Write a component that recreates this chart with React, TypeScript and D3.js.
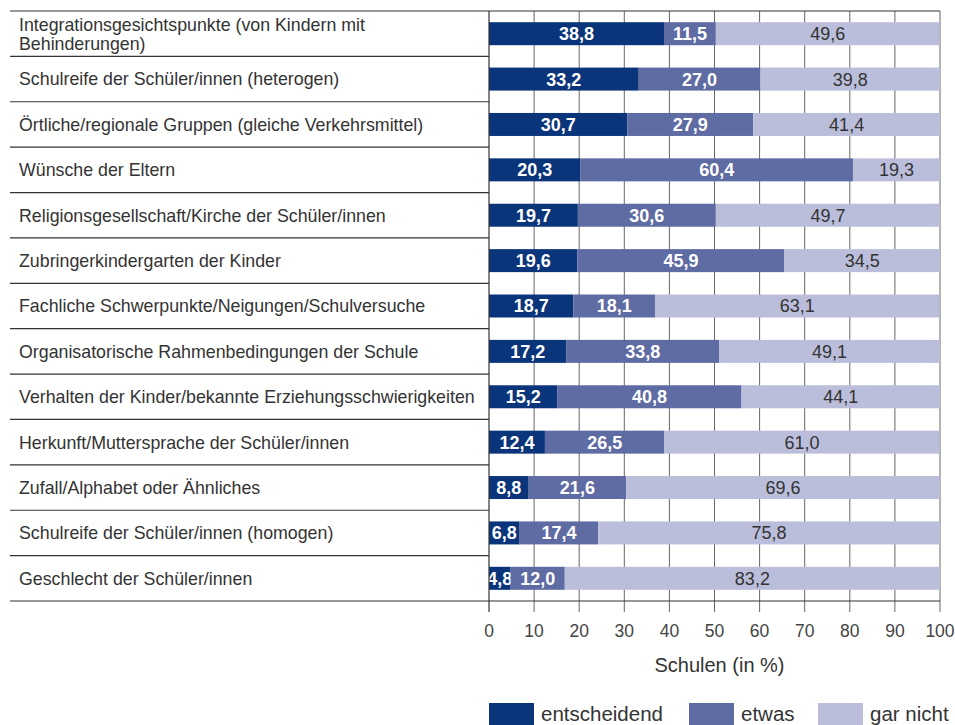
import { useRef, useEffect } from "react";
import * as d3 from "d3";

const categories = [
  ["Integrationsgesichtspunkte (von Kindern mit", "Behinderungen)"],
  ["Schulreife der Schüler/innen (heterogen)"],
  ["Örtliche/regionale Gruppen (gleiche Verkehrsmittel)"],
  ["Wünsche der Eltern"],
  ["Religionsgesellschaft/Kirche der Schüler/innen"],
  ["Zubringerkindergarten der Kinder"],
  ["Fachliche Schwerpunkte/Neigungen/Schulversuche"],
  ["Organisatorische Rahmenbedingungen der Schule"],
  ["Verhalten der Kinder/bekannte Erziehungsschwierigkeiten"],
  ["Herkunft/Muttersprache der Schüler/innen"],
  ["Zufall/Alphabet oder Ähnliches"],
  ["Schulreife der Schüler/innen (homogen)"],
  ["Geschlecht der Schüler/innen"],
];

const entscheidend = [38.8, 33.2, 30.7, 20.3, 19.7, 19.6, 18.7, 17.2, 15.2, 12.4, 8.8, 6.8, 4.8];
const etwas = [11.5, 27.0, 27.9, 60.4, 30.6, 45.9, 18.1, 33.8, 40.8, 26.5, 21.6, 17.4, 12.0];
const garNicht = [49.6, 39.8, 41.4, 19.3, 49.7, 34.5, 63.1, 49.1, 44.1, 61.0, 69.6, 75.8, 83.2];

const seriesNames = ["entscheidend", "etwas", "gar nicht"];
const seriesColors = ["#0b357a", "#5f6ba3", "#babedb"];
const ticks = [0, 10, 20, 30, 40, 50, 60, 70, 80, 90, 100];

const App = () => {
  const svgRef = useRef(null);

  useEffect(() => {
    const width = 955;
    const height = 725;
    const left = 10;
    const x0 = 489;
    const x1 = 940;
    const top = 11;
    const bottom = 601;
    const font = "'Liberation Sans', Arial, sans-serif";

    const svg = d3.select(svgRef.current);
    svg.selectAll("*").remove();
    svg.attr("width", width).attr("height", height);

    const x = d3.scaleLinear().domain([0, 100]).range([x0, x1]);
    const y = d3
      .scaleBand()
      .domain(categories.map((_, i) => String(i)))
      .range([top, bottom])
      .padding(0);
    const barH = 23;

    // vertical grid lines
    svg
      .append("g")
      .selectAll("line")
      .data(ticks.slice(1))
      .enter()
      .append("line")
      .attr("x1", (d) => x(d))
      .attr("x2", (d) => x(d))
      .attr("y1", top)
      .attr("y2", bottom + 11)
      .attr("stroke", "#666")
      .attr("stroke-width", 1);

    // row separators in label column
    const rowLines = d3.range(categories.length + 1);
    svg
      .append("g")
      .selectAll("line")
      .data(rowLines)
      .enter()
      .append("line")
      .attr("x1", left)
      .attr("x2", (d) => (d === 0 || d === categories.length ? x1 : x0))
      .attr("y1", (d) => top + d * y.step())
      .attr("y2", (d) => top + d * y.step())
      .attr("stroke", "#333")
      .attr("stroke-width", 1.2);

    const data = categories.map((c, i) => {
      const vals = [entscheidend[i], etwas[i], garNicht[i]];
      let acc = 0;
      return vals.map((v, k) => {
        const start = acc;
        acc += v;
        return { i, k, v, start, end: Math.min(100, acc) };
      });
    });

    const bars = svg.append("g");
    data.flat().forEach((d) => {
      const cy = (y(String(d.i)) as number) + y.bandwidth() / 2;
      bars
        .append("rect")
        .attr("x", x(d.start))
        .attr("y", cy - barH / 2)
        .attr("width", x(d.end) - x(d.start))
        .attr("height", barH)
        .attr("fill", seriesColors[d.k]);
      bars
        .append("text")
        .attr("x", (x(d.start) + x(d.end)) / 2)
        .attr("y", cy)
        .attr("dy", "0.36em")
        .attr("text-anchor", "middle")
        .attr("font-family", font)
        .attr("font-size", 18)
        .attr("font-weight", d.k < 2 ? "bold" : "normal")
        .attr("fill", d.k < 2 ? "#fff" : "#333")
        .text(d.v.toFixed(1).replace(".", ","));
    });

    // left axis line
    svg
      .append("line")
      .attr("x1", x0)
      .attr("x2", x0)
      .attr("y1", top)
      .attr("y2", bottom + 11)
      .attr("stroke", "#333")
      .attr("stroke-width", 1.2);

    // category labels
    categories.forEach((lines, i) => {
      const cy = (y(String(i)) as number) + y.bandwidth() / 2;
      const lh = 19;
      const t = svg
        .append("text")
        .attr("font-family", font)
        .attr("font-size", 17.8)
        .attr("fill", "#333");
      lines.forEach((ln, j) => {
        t.append("tspan")
          .attr("x", 19)
          .attr("y", cy + (j - (lines.length - 1) / 2) * lh)
          .attr("dy", "0.36em")
          .text(ln);
      });
    });

    // tick labels
    svg
      .append("g")
      .selectAll("text")
      .data(ticks)
      .enter()
      .append("text")
      .attr("x", (d) => x(d))
      .attr("y", 637)
      .attr("text-anchor", "middle")
      .attr("font-family", font)
      .attr("font-size", 17.5)
      .attr("fill", "#444")
      .text((d) => d);

    svg
      .append("text")
      .attr("x", (x0 + x1) / 2 + 5)
      .attr("y", 672)
      .attr("text-anchor", "middle")
      .attr("font-family", font)
      .attr("font-size", 20)
      .attr("fill", "#333")
      .text("Schulen (in %)");

    // legend
    const legendX = [489, 689, 818];
    seriesNames.forEach((name, k) => {
      svg
        .append("rect")
        .attr("x", legendX[k])
        .attr("y", 703)
        .attr("width", 45)
        .attr("height", 22)
        .attr("fill", seriesColors[k]);
      svg
        .append("text")
        .attr("x", legendX[k] + 52)
        .attr("y", 721)
        .attr("font-family", font)
        .attr("font-size", 20.5)
        .attr("fill", "#333")
        .text(name);
    });
  }, []);

  return (
    <svg
      ref={svgRef}
      style={{ position: "absolute", left: 0, top: 0, display: "block" }}
    ></svg>
  );
};

export default App;
